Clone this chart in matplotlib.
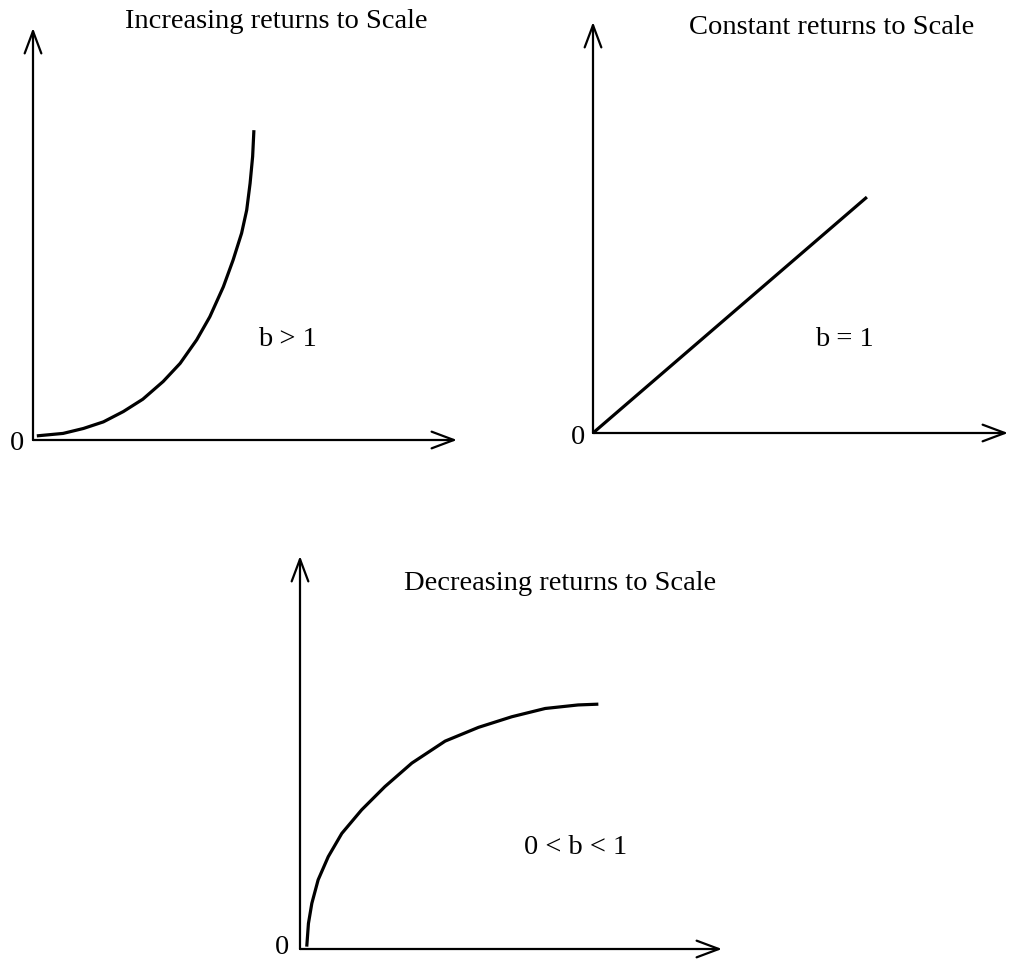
import numpy as np
import matplotlib
matplotlib.use("Agg")
import matplotlib.pyplot as plt

plt.rcParams['font.family'] = ['Liberation Serif', 'DejaVu Serif']

W, H = 1010, 961

# curve values in each panel, as fractions of the drawn axis lengths
inc_x = [0.009, 0.071, 0.119, 0.166, 0.213, 0.259, 0.307, 0.347, 0.386,
         0.417, 0.449, 0.472, 0.492, 0.504, 0.512, 0.518, 0.521]
inc_y = [0.010, 0.016, 0.028, 0.044, 0.069, 0.099, 0.142, 0.186, 0.243,
         0.299, 0.372, 0.437, 0.502, 0.558, 0.623, 0.688, 0.752]

const_x = [0.0, 0.660]
const_y = [0.0, 0.574]

dec_x = [0.016, 0.020, 0.028, 0.043, 0.067, 0.099, 0.146, 0.201, 0.265,
         0.344, 0.423, 0.502, 0.581, 0.659, 0.707]
dec_y = [0.006, 0.065, 0.116, 0.176, 0.235, 0.294, 0.354, 0.413, 0.473,
         0.529, 0.564, 0.591, 0.612, 0.621, 0.623]

titles = ["Increasing returns to Scale", "Constant returns to Scale",
          "Decreasing returns to Scale"]
labels = ["b > 1", "b = 1", "0 < b < 1"]

# panel frames in pixels: origin x, origin y, x-arrow tip, y-arrow tip
frames = [(33, 440, 457, 28), (593, 433, 1008, 22), (300, 949, 722, 556)]
title_pos = [(276, 22), (832, 27), (560, 583)]
label_pos = [(287, 340), (844, 340), (576, 848)]
zero_pos = [(17, 444), (578, 438), (282, 948)]
curves = [(inc_x, inc_y), (const_x, const_y), (dec_x, dec_y)]

fig = plt.figure(figsize=(W / 100, H / 100), dpi=100)

for i in range(3):
    ox, oy, tx, ty = frames[i]
    ax = fig.add_axes([ox / W, 1 - oy / H, (tx - ox) / W, (oy - ty) / H])
    ax.set_xlim(0, 1)
    ax.set_ylim(0, 1)
    ax.axis('off')
    arrow = dict(arrowstyle='->,head_length=1.6,head_width=0.6', lw=1.6,
                 color='black', shrinkA=0, shrinkB=0)
    ax.annotate('', xy=(1, 0), xytext=(0, 0), xycoords='axes fraction',
                arrowprops=arrow, annotation_clip=False)
    ax.annotate('', xy=(0, 1), xytext=(0, 0), xycoords='axes fraction',
                arrowprops=arrow, annotation_clip=False)
    ax.plot(curves[i][0], curves[i][1], color='black', lw=2.3, clip_on=False,
            solid_capstyle='butt', solid_joinstyle='round')

    fig.text(title_pos[i][0] / W, 1 - title_pos[i][1] / H, titles[i],
             ha='center', va='center', fontsize=20.5)
    fig.text(label_pos[i][0] / W, 1 - label_pos[i][1] / H, labels[i],
             ha='center', va='center', fontsize=20.5)
    fig.text(zero_pos[i][0] / W, 1 - zero_pos[i][1] / H, "0",
             ha='center', va='center', fontsize=20.5)

fig.savefig("out.png", dpi=100, facecolor='white')
